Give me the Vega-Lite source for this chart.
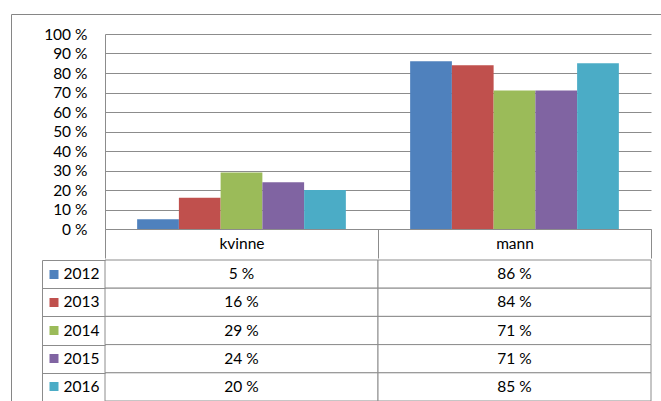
{
  "$schema": "https://vega.github.io/schema/vega-lite/v6.json",
  "padding": {"left": 10, "top": 13, "right": 0, "bottom": 0},
  "background": "white",
  "spacing": 0,
  "config": {
    "font": "Lato",
    "view": {"stroke": null},
    "axis": {"labelFont": "Lato", "labelFontSize": 15.5, "labelColor": "#000000"}
  },
  "datasets": {
    "d": [
      {"sex": "kvinne", "year": "2012", "value": 5},
      {"sex": "kvinne", "year": "2013", "value": 16},
      {"sex": "kvinne", "year": "2014", "value": 29},
      {"sex": "kvinne", "year": "2015", "value": 24},
      {"sex": "kvinne", "year": "2016", "value": 20},
      {"sex": "mann", "year": "2012", "value": 86},
      {"sex": "mann", "year": "2013", "value": 84},
      {"sex": "mann", "year": "2014", "value": 71},
      {"sex": "mann", "year": "2015", "value": 71},
      {"sex": "mann", "year": "2016", "value": 85}
    ]
  },
  "resolve": {"scale": {"color": "shared"}, "legend": {"color": "shared"}},
  "vconcat": [
    {
      "width": 546,
      "height": 195,
      "data": {"name": "d"},
      "mark": {"type": "bar"},
      "encoding": {
        "x": {
          "field": "sex", "type": "nominal",
          "scale": {"domain": ["kvinne", "mann"], "paddingInner": 0, "paddingOuter": 0},
          "axis": {
            "title": null, "labelAngle": 0, "domain": true, "domainColor": "#8c8c8c",
            "tickBand": "extent", "tickSize": 29, "tickColor": "#8c8c8c",
            "labelBaseline": "middle", "labelPadding": -15, "grid": false
          }
        },
        "xOffset": {
          "field": "year", "type": "nominal",
          "scale": {"paddingInner": 0, "paddingOuter": 0.77}
        },
        "y": {
          "field": "value", "type": "quantitative",
          "scale": {"domain": [0, 100]},
          "axis": {
            "title": null, "values": [0, 10, 20, 30, 40, 50, 60, 70, 80, 90, 100],
            "labelExpr": "datum.value + ' %'",
            "grid": true, "gridColor": "#8c8c8c", "domain": true, "domainColor": "#8c8c8c",
            "ticks": false, "labelPadding": 18
          }
        },
        "color": {
          "field": "year", "type": "nominal",
          "scale": {"domain": ["2012", "2013", "2014", "2015", "2016"], "range": ["#4F81BD", "#C0504D", "#9BBB59", "#8064A2", "#4BACC6"]},
          "legend": {
            "orient": "none", "legendX": -94, "legendY": -20, "direction": "horizontal", "columns": 5,
            "title": null, "padding": 195, "columnPadding": 20, "strokeColor": "#868686",
            "symbolOpacity": 0, "labelOpacity": 0, "labelFontSize": 15.5
          }
        }
      }
    },
    {
      "width": 546,
      "height": 141,
      "data": {"name": "d"},
      "encoding": {
        "x": {
          "field": "sex", "type": "nominal",
          "scale": {"domain": ["kvinne", "mann"], "paddingInner": 0, "paddingOuter": 0},
          "axis": null
        }
      },
      "layer": [
        {
          "mark": {"type": "rect", "fill": "white", "stroke": "#8c8c8c", "strokeWidth": 1},
          "encoding": {
            "y": {
              "field": "year", "type": "nominal",
              "scale": {"domain": ["2012", "2013", "2014", "2015", "2016"], "paddingInner": 0, "paddingOuter": 0},
              "axis": {
                "orient": "left", "offset": 63, "title": null, "domain": true, "domainColor": "#8c8c8c",
                "ticks": true, "tickBand": "extent", "tickSize": -63, "tickColor": "#8c8c8c",
                "labels": false, "grid": false
              }
            }
          }
        },
        {
          "mark": {"type": "text", "fontSize": 15.5, "font": "Lato", "color": "#000000", "text": {"expr": "datum.value + ' %'"}},
          "encoding": {
            "y": {
              "field": "year", "type": "nominal",
              "axis": {
                "orient": "left", "offset": 47, "title": null, "domain": false,
                "ticks": true, "tickSize": 9, "tickWidth": 9, "tickCap": "butt",
                "tickColor": {
                  "condition": [
                    {"test": "datum.value === '2012'", "value": "#4F81BD"},
                    {"test": "datum.value === '2013'", "value": "#C0504D"},
                    {"test": "datum.value === '2014'", "value": "#9BBB59"},
                    {"test": "datum.value === '2015'", "value": "#8064A2"}
                  ],
                  "value": "#4BACC6"
                },
                "labelAlign": "left", "labelPadding": -14, "labelBaseline": "middle", "grid": false
              }
            }
          }
        }
      ],
      "resolve": {"axis": {"y": "independent"}}
    }
  ]
}
